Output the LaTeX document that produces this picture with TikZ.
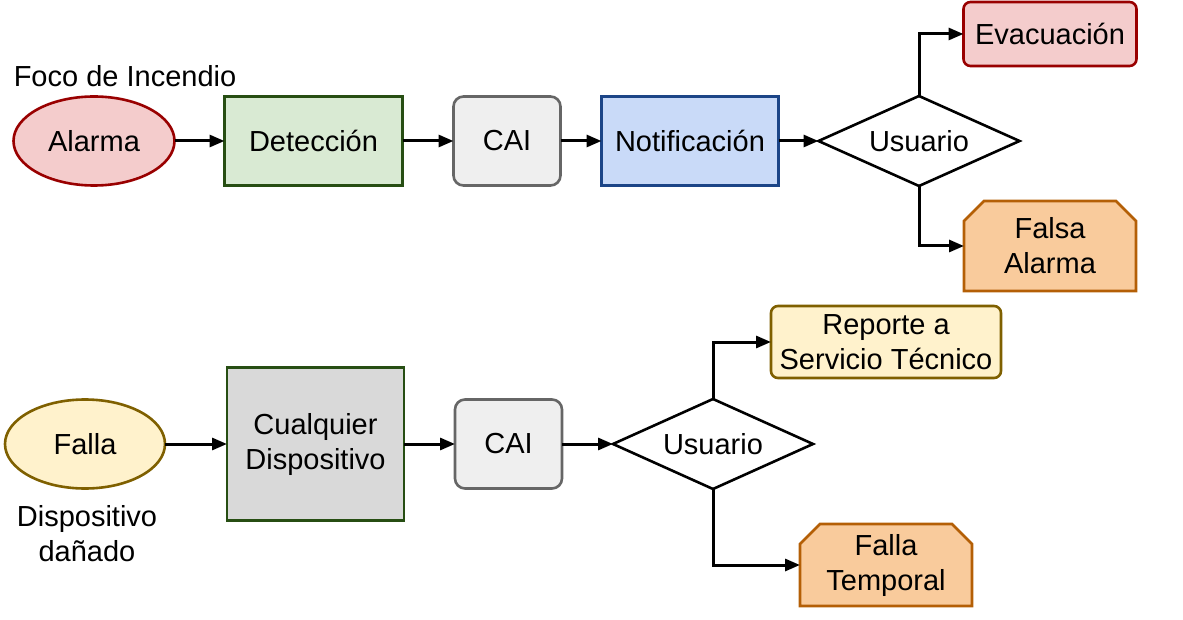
\documentclass[tikz,border=0pt]{standalone}
\usepackage{fontspec}
\setmainfont{Liberation Sans}
\usetikzlibrary{positioning, shapes.geometric, shapes.misc, arrows.meta}

\definecolor{rojoFill}{HTML}{F4CCCC}
\definecolor{rojoLine}{HTML}{990000}
\definecolor{verdeFill}{HTML}{D9EAD3}
\definecolor{verdeLine}{HTML}{274E13}
\definecolor{grisFill}{HTML}{EFEFEF}
\definecolor{grisLine}{HTML}{666666}
\definecolor{azulFill}{HTML}{C9DAF8}
\definecolor{azulLine}{HTML}{1C4587}
\definecolor{naranjaFill}{HTML}{F9CB9C}
\definecolor{naranjaLine}{HTML}{B45F06}
\definecolor{amarilloFill}{HTML}{FFF2CC}
\definecolor{amarilloLine}{HTML}{7F6000}
\definecolor{oscuroFill}{HTML}{D9D9D9}

\begin{document}
\begin{tikzpicture}[x=1pt, y=1pt, line width=2.6pt,
  font=\fontsize{29}{35}\selectfont,
  every node/.style={align=center, inner sep=0pt, outer sep=0pt},
  flecha/.style={-{Triangle[length=15pt,width=12pt]}, line width=3pt},
  evento/.style={ellipse, draw, minimum width=161pt, minimum height=89pt},
  proceso/.style={rectangle, draw, minimum width=178pt, minimum height=89pt},
  central/.style={rectangle, rounded corners=10pt, draw=grisLine, fill=grisFill, minimum width=107pt, minimum height=89pt},
  decision/.style={diamond, draw, aspect=2.2, minimum width=201pt, minimum height=90pt},
  accion/.style={rectangle, rounded corners=7pt, draw},
  final/.style={chamfered rectangle, chamfered rectangle corners={north west, north east}, chamfered rectangle xsep=10pt, chamfered rectangle ysep=10pt, draw=naranjaLine, fill=naranjaFill, minimum width=172pt}]

  \useasboundingbox (0,0) rectangle (1183,-620);

  % Incendio
  \node[evento, draw=rojoLine, fill=rojoFill] (alarma) at (94,-141) {Alarma};
  \node (foco) at (125,-76) {Foco de Incendio};
  \node[proceso, draw=verdeLine, fill=verdeFill, right=50pt of alarma] (deteccion) {Detección};
  \node[central, right=51pt of deteccion] (cai1) {CAI};
  \node[proceso, draw=azulLine, fill=azulFill, minimum width=177pt, right=41pt of cai1] (notificacion) {Notificación};
  \node[decision, right=40pt of notificacion] (usuario1) {Usuario};
  \node[accion, draw=rojoLine, fill=rojoFill, minimum width=173pt, minimum height=64pt] (evacuacion) at (1050,-34) {Evacuación};
  \node[final, minimum height=90pt] (falsa) at (1050,-246) {Falsa\\Alarma};

  \draw[flecha] (alarma) -- (deteccion);
  \draw[flecha] (deteccion) -- (cai1);
  \draw[flecha] (cai1) -- (notificacion);
  \draw[flecha] (notificacion) -- (usuario1);
  \draw[flecha] (usuario1.north) |- (evacuacion.west);
  \draw[flecha] (usuario1.south) |- (falsa.west);

  % Falla
  \node[evento, draw=amarilloLine, fill=amarilloFill, minimum width=160pt] (falla) at (85,-444) {Falla};
  \node (danado) at (87,-534) {Dispositivo\\dañado};
  \node[proceso, draw=verdeLine, fill=oscuroFill, minimum width=177pt, minimum height=153pt, right=62pt of falla] (cualquier) {Cualquier\\Dispositivo};
  \node[central, right=51pt of cualquier] (cai2) {CAI};
  \node[decision, minimum width=200pt, right=51pt of cai2] (usuario2) {Usuario};
  \node[accion, draw=amarilloLine, fill=amarilloFill, minimum width=230pt, minimum height=72pt] (reporte) at (886,-342) {Reporte a\\Servicio Técnico};
  \node[final, minimum height=81pt] (temporal) at (886,-565) {Falla\\Temporal};

  \draw[flecha] (falla) -- (cualquier);
  \draw[flecha] (cualquier) -- (cai2);
  \draw[flecha] (cai2) -- (usuario2);
  \draw[flecha] (usuario2.north) |- (reporte.west);
  \draw[flecha] (usuario2.south) |- (temporal.west);

\end{tikzpicture}
\end{document}
